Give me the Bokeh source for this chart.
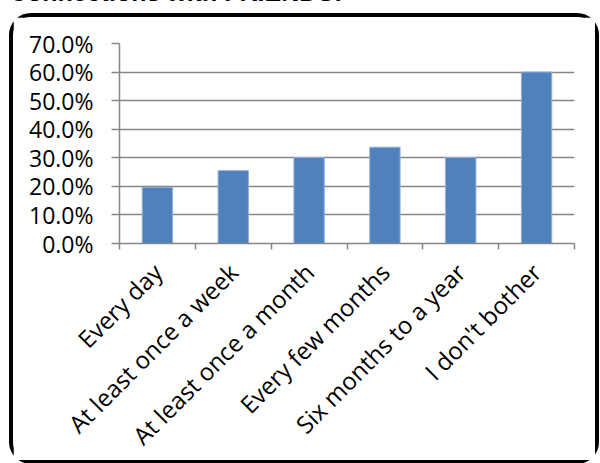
from math import pi
from bokeh.plotting import figure
from bokeh.layouts import column
from bokeh.models import Range1d, FixedTicker, NumeralTickFormatter, Div
from bokeh.embed import file_html
from bokeh.resources import INLINE

title_text = "Connections with FRIENDS:"
categories = ["Every day", "At least once a week", "At least once a month",
              "Every few months", "Six months to a year", "I don't bother"]
percent = [0.196, 0.255, 0.301, 0.337, 0.301, 0.600]
y_ticks = [0.0, 0.1, 0.2, 0.3, 0.4, 0.5, 0.6, 0.7]

centers = [i + 0.5 for i in range(len(categories))]
bounds = [float(i) for i in range(len(categories) + 1)]

W, H = 590, 451
fig = figure(width=W, height=H, output_backend="svg", toolbar_location=None,
             x_range=Range1d(0, len(categories)), y_range=Range1d(0, 0.7),
             min_border_left=106, min_border_right=29, min_border_top=26,
             min_border_bottom=225,
             styles={"border": "4px solid black", "border-radius": "22px",
                     "margin-top": "3px", "margin-left": "9px"})
fig.outline_line_color = None
fig.background_fill_color = "white"
fig.border_fill_color = "white"

fig.vbar(x=centers, top=percent, width=0.4, fill_color="#4F81BD",
         line_color="#8FB0DA", line_width=1)

grey = "#868686"
ya = fig.yaxis[0]
ya.ticker = FixedTicker(ticks=y_ticks, minor_ticks=[])
ya.formatter = NumeralTickFormatter(format="0.0%")
ya.axis_line_color = grey
ya.axis_line_width = 1.5
ya.major_tick_line_color = grey
ya.major_tick_line_width = 1.5
ya.major_tick_out = 8
ya.major_tick_in = 0
ya.minor_tick_line_color = None
ya.major_label_standoff = 18
ya.major_label_text_font = "Open Sans"
ya.major_label_text_font_size = "23px"
ya.major_label_text_color = "#000000"

xa = fig.xaxis[0]
xa.ticker = FixedTicker(ticks=centers, minor_ticks=bounds)
xa.major_label_overrides = {c: lab for c, lab in zip(centers, categories)}
xa.major_label_orientation = pi / 4
xa.axis_line_color = grey
xa.axis_line_width = 1.5
xa.major_tick_line_color = None
xa.minor_tick_line_color = grey
xa.minor_tick_line_width = 1.5
xa.minor_tick_out = 6
xa.minor_tick_in = 0
xa.major_label_standoff = 18
xa.major_label_text_font = "Open Sans"
xa.major_label_text_font_size = "24px"
xa.major_label_text_color = "#000000"

fig.xgrid.grid_line_color = None
fig.ygrid.ticker = FixedTicker(ticks=y_ticks)
fig.ygrid.grid_line_color = grey
fig.ygrid.grid_line_width = 1.5

title = Div(text=('<span style="font: bold 25px/25px \'Liberation Sans\', sans-serif; '
                  'white-space: nowrap; color: black">' + title_text + '</span>'),
            width=400, height=25,
            styles={"margin-top": "-20px", "margin-left": "9px"})

p = column(title, fig, spacing=0)

open("out.html", "w").write(file_html(p, INLINE))
